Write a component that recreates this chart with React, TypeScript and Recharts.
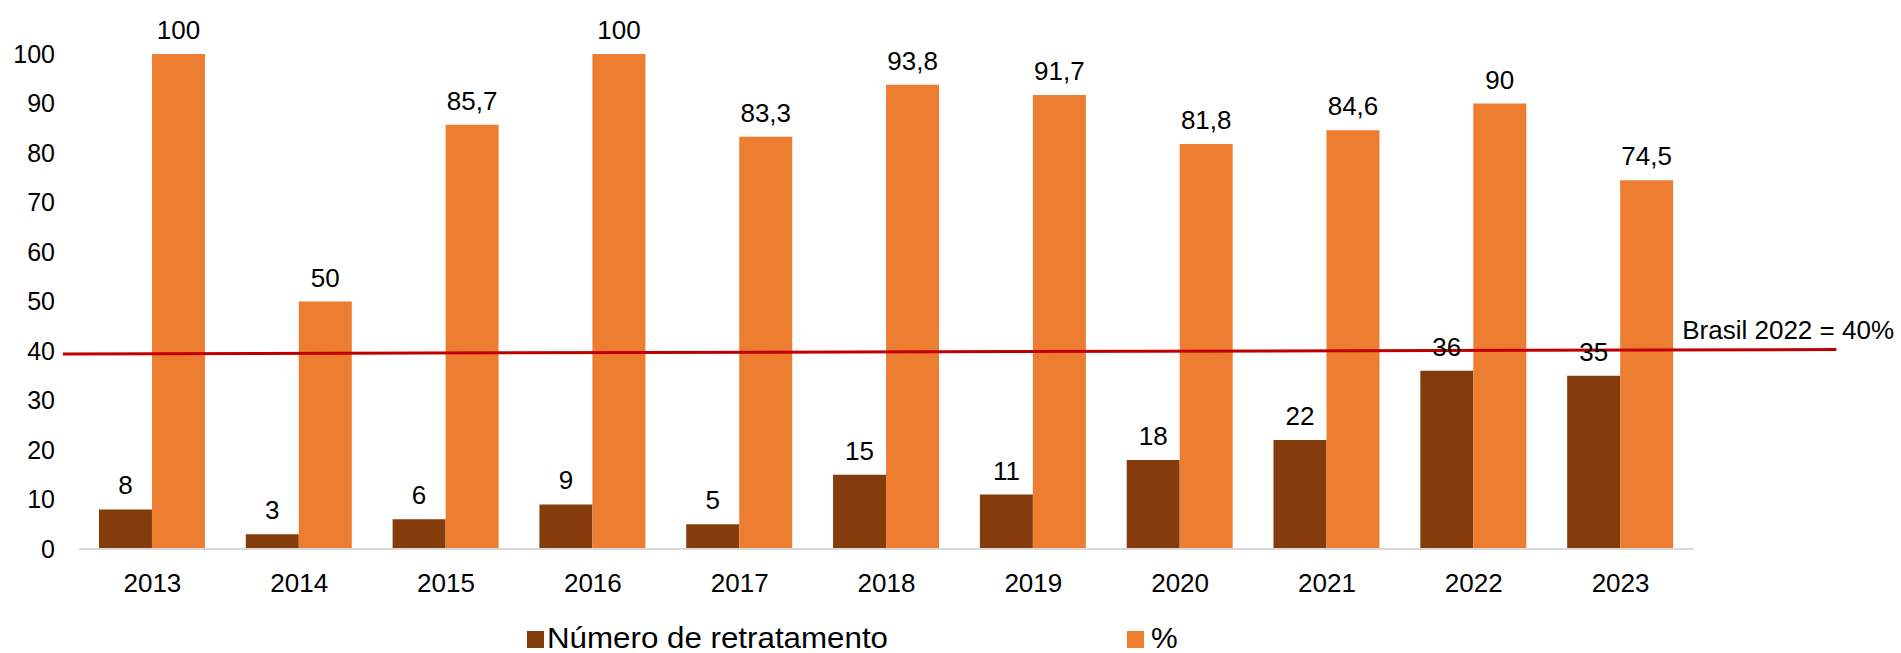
import {
  BarChart,
  Bar,
  XAxis,
  YAxis,
  Legend,
  LabelList,
  ReferenceLine,
  ReferenceDot,
} from "recharts";

const years = ["2013", "2014", "2015", "2016", "2017", "2018", "2019", "2020", "2021", "2022", "2023"];
const retratamento = [8, 3, 6, 9, 5, 15, 11, 18, 22, 36, 35];
const percent = [100, 50, 85.7, 100, 83.3, 93.8, 91.7, 81.8, 84.6, 90, 74.5];
const yTicks = [0, 10, 20, 30, 40, 50, 60, 70, 80, 90, 100];

// Brasil 2022 reference line (slightly tilted in the original), in category-index units
const brasilLine = [
  { x: -0.61, y: 39.4 },
  { x: 11.47, y: 40.3 },
];
const brasilLabel = "Brasil 2022 = 40%";

const data = years.map((year, i) => ({
  year,
  idx: i,
  retratamento: retratamento[i],
  percent: percent[i],
}));

const FONT = "'Liberation Sans', Arial, sans-serif";
const DARK = "#843C0C";
const ORANGE = "#ED7D31";
const RED = "#C00000";

const fmt = (v: number) => String(v).replace(".", ",");

const BrasilText = (props: any) => {
  const { viewBox } = props;
  return (
    <text x={viewBox.x} y={viewBox.y} fontSize={26} fontFamily={FONT} fill="#000">
      {brasilLabel}
    </text>
  );
};

const LegendContent = () => (
  <svg width={1901} height={33} style={{ display: "block" }}>
    <rect x={527} y={11} width={17} height={17} fill={DARK} />
    <text x={547} y={28} fontSize={30} fontFamily={FONT} textLength={341} lengthAdjust="spacingAndGlyphs">
      Número de retratamento
    </text>
    <rect x={1127} y={11} width={17} height={17} fill={ORANGE} />
    <text x={1151} y={28} fontSize={30} fontFamily={FONT}>
      %
    </text>
  </svg>
);

export default function App() {
  return (
    <div style={{ position: "absolute", left: 0, top: 0, background: "#fff" }}>
      <BarChart
        width={1901}
        height={653}
        data={data}
        margin={{ top: 54, right: 207, left: 0, bottom: 0 }}
        barCategoryGap="13.6%"
        barGap={0}
      >
        <XAxis
          dataKey="year"
          tickLine={false}
          axisLine={{ stroke: "#D9D9D9", strokeWidth: 2 }}
          tick={{ fill: "#000", fontSize: 26, fontFamily: FONT }}
          tickSize={0}
          tickMargin={25}
          height={104}
        />
        <XAxis
          xAxisId="line"
          dataKey="idx"
          type="number"
          domain={[-0.5, 10.5]}
          allowDataOverflow
          hide
        />
        <YAxis
          domain={[0, 100]}
          ticks={yTicks}
          width={79}
          axisLine={false}
          tickLine={false}
          tickSize={0}
          tickMargin={24}
          tick={{ fill: "#000", fontSize: 25, fontFamily: FONT }}
          interval={0}
        />
        <Bar dataKey="retratamento" fill={DARK} isAnimationActive={false}>
          <LabelList
            dataKey="retratamento"
            position="top"
            offset={15}
            formatter={fmt}
            style={{ fill: "#000", fontSize: 26, fontFamily: FONT }}
          />
        </Bar>
        <Bar dataKey="percent" fill={ORANGE} isAnimationActive={false}>
          <LabelList
            dataKey="percent"
            position="top"
            offset={15}
            formatter={fmt}
            style={{ fill: "#000", fontSize: 26, fontFamily: FONT }}
          />
        </Bar>
        <ReferenceLine
          xAxisId="line"
          segment={brasilLine}
          stroke={RED}
          strokeWidth={3}
          ifOverflow="visible"
        />
        <ReferenceDot
          xAxisId="line"
          x={10.42}
          y={42.4}
          r={0}
          fill="none"
          stroke="none"
          ifOverflow="visible"
          label={<BrasilText />}
        />
        <Legend
          layout="horizontal"
          verticalAlign="middle"
          align="center"
          content={<LegendContent />}
          wrapperStyle={{ top: 620, left: 0, width: 1901 }}
        />
      </BarChart>
    </div>
  );
}
